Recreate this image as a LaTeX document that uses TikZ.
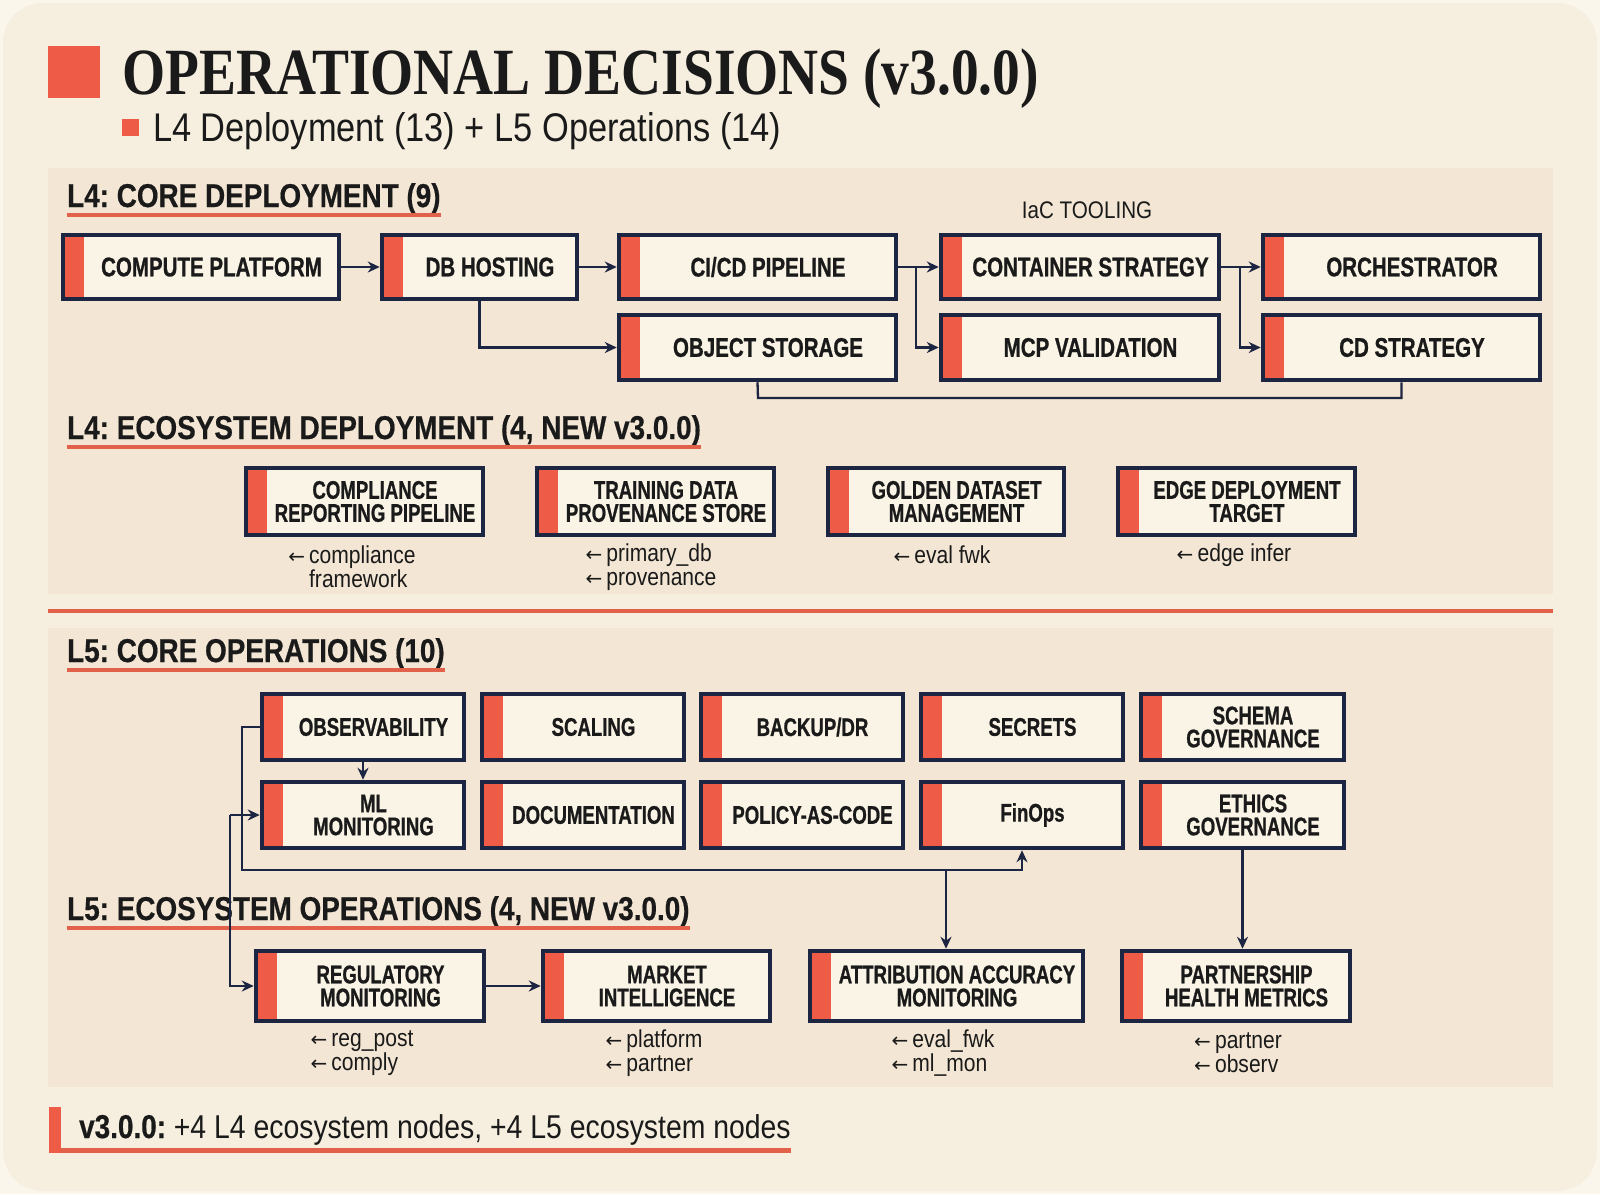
\documentclass[tikz,border=0pt]{standalone}
\usepackage{fontspec}
\setmainfont{Liberation Sans}
\newfontfamily\titlefont{Liberation Serif}[FakeStretch=0.84]
\newfontfamily\bxfont{Liberation Sans}[FakeStretch=0.76,FakeBold=0.8]
\newfontfamily\bxsfont{Liberation Sans}[FakeStretch=0.73,FakeBold=0.8]
\newfontfamily\hdfont{Liberation Sans}[FakeStretch=0.845,FakeBold=0.5]
\newfontfamily\rgfont{Liberation Sans}[FakeStretch=0.86]
\newfontfamily\arrfont{DejaVu Sans}
\newcommand\la{{\arrfont\fontsize{20}{20}\selectfont ←}}
\usetikzlibrary{arrows.meta,calc}
\definecolor{pagebg}{HTML}{FAF6EC}
\definecolor{cardbg}{HTML}{F6EFDF}
\definecolor{panelbg}{HTML}{F3E6D4}
\definecolor{accent}{HTML}{EE5B46}
\definecolor{uline}{HTML}{E2614B}
\definecolor{navy}{HTML}{1C2541}
\definecolor{boxfill}{HTML}{FAF4E6}
\definecolor{ink}{HTML}{1A1A1A}
\tikzset{
  obx/.style={draw=navy, line width=4.5pt, fill=boxfill, inner sep=0pt,
    path picture={\fill[accent] (path picture bounding box.north west) rectangle ([xshift=21pt]path picture bounding box.south west);}},
  obbig/.style={align=center, inner sep=0pt, text=ink, font=\bxfont\bfseries\fontsize{27}{27}\selectfont},
  obsm/.style={align=center, inner sep=0pt, text=ink, font=\bxsfont\bfseries\fontsize{25.5}{23}\selectfont},
  hd/.style={anchor=base west, inner sep=0pt, text=ink, font=\hdfont\bfseries\fontsize{33}{33}\selectfont},
  ul/.style={draw=uline, line width=4.5pt},
  conn/.style={draw=navy, line width=2.3pt, -{Stealth[length=12pt,width=11pt]}},
  plain/.style={draw=navy, line width=2.3pt},
  lbl/.style={align=left, inner sep=0pt, text=ink, font=\rgfont\fontsize{24.5}{24}\selectfont},
}
\newcommand\obox[7]{%
  \node[obx, minimum width={#4-#2}, minimum height={#5-#3}] (#1) at ({(#2+#4)/2},{(#3+#5)/2}) {};
  \node[#7] (#1t) at ([xshift=10.5pt]#1.center) {#6};
}
\begin{document}
\frenchspacing
\begin{tikzpicture}[x=1pt,y=-1pt]
\useasboundingbox (0,0) rectangle (1600,1194);
\fill[pagebg] (0,0) rectangle (1600,1194);
\fill[cardbg, rounded corners=40pt] (3,3) rectangle (1597,1191);
% panels
\fill[panelbg] (48,168) rectangle (1553,594);
\fill[panelbg] (48,628) rectangle (1553,1087);
\draw[uline, line width=4.5pt] (48,611) -- (1553,611);
% title
\fill[accent] (48,46) rectangle (100,98);
\node[anchor=base west, inner sep=0pt, text=ink] (title) at (122,94) {\titlefont\bfseries\fontsize{66}{66}\selectfont OPERATIONAL DECISIONS (v3.0.0)};
\fill[accent] (122,119) rectangle (139,136);
\node[anchor=base west, inner sep=0pt, text=ink] (subtitle) at (153,141) {\rgfont\fontsize{40}{40}\selectfont L4 Deployment (13) + L5 Operations (14)};
% headings
\node[hd] (h1) at (67,207) {L4: CORE DEPLOYMENT (9)};
\draw[ul] ([yshift=-8pt]h1.base west) -- ([yshift=-8pt]h1.base east);
\node[hd] (h2) at (67,439) {L4: ECOSYSTEM DEPLOYMENT (4, NEW v3.0.0)};
\draw[ul] ([yshift=-8pt]h2.base west) -- ([yshift=-8pt]h2.base east);
\node[hd] (h3) at (67,662) {L5: CORE OPERATIONS (10)};
\draw[ul] ([yshift=-8pt]h3.base west) -- ([yshift=-8pt]h3.base east);
\node[hd] (h4) at (67,920) {L5: ECOSYSTEM OPERATIONS (4, NEW v3.0.0)};
\draw[ul] ([yshift=-8pt]h4.base west) -- ([yshift=-8pt]h4.base east);
% L4 core
\node[text=ink, inner sep=0pt, font=\rgfont\fontsize{24}{24}\selectfont] (iac) at (1087,210) {IaC TOOLING};
\obox{cp}{63}{235}{339}{299}{COMPUTE PLATFORM}{obbig}
\obox{db}{382}{235}{577}{299}{DB HOSTING}{obbig}
\obox{ci}{619}{235}{896}{299}{CI/CD PIPELINE}{obbig}
\obox{cs}{941}{235}{1219}{299}{CONTAINER STRATEGY}{obbig}
\obox{orc}{1263}{235}{1540}{299}{ORCHESTRATOR}{obbig}
\obox{os}{619}{315}{896}{380}{OBJECT STORAGE}{obbig}
\obox{mcp}{941}{315}{1219}{380}{MCP VALIDATION}{obbig}
\obox{cd}{1263}{315}{1540}{380}{CD STRATEGY}{obbig}
\draw[conn] (cp.east) -- (db.west);
\draw[conn] (db.east) -- (ci.west);
\draw[conn] (db.south) |- (os.west);
\coordinate (j1) at (916,267);
\coordinate (j2) at (1240,267);
\draw[plain] (ci.east) -- (j1);
\draw[conn] (j1) -- (cs.west);
\draw[conn] (j1) |- (mcp.west);
\draw[plain] (cs.east) -- (j2);
\draw[conn] (j2) -- (orc.west);
\draw[conn] (j2) |- (cd.west);
\coordinate (j3) at (758,398);
\draw[plain] (os.south) -- (j3) -| (cd.south);
% L4 ecosystem
\obox{crp}{246}{468}{483}{535}{COMPLIANCE\\REPORTING PIPELINE}{obsm}
\obox{tdp}{537}{468}{774}{535}{TRAINING DATA\\PROVENANCE STORE}{obsm}
\obox{gdm}{828}{468}{1064}{535}{GOLDEN DATASET\\MANAGEMENT}{obsm}
\obox{edt}{1118}{468}{1355}{535}{EDGE DEPLOYMENT\\TARGET}{obsm}
\node[lbl] (l1) at (352,567) {\la\,compliance\\\phantom{\la\,}framework};
\node[lbl] (l2) at (651,567) {\la\,primary\_db\\\la\,provenance};
\node[lbl] (l3) at (942,555) {\la\,eval fwk};
\node[lbl] (l4) at (1234,555) {\la\,edge infer};
% L5 core
\obox{ob}{262}{694}{464}{760}{OBSERVABILITY}{obsm}
\obox{sc}{482}{694}{684}{760}{SCALING}{obsm}
\obox{bk}{701}{694}{903}{760}{BACKUP/DR}{obsm}
\obox{se}{921}{694}{1123}{760}{SECRETS}{obsm}
\obox{sg}{1141}{694}{1344}{760}{SCHEMA\\GOVERNANCE}{obsm}
\obox{ml}{262}{782}{464}{848}{ML\\MONITORING}{obsm}
\obox{doc}{482}{782}{684}{848}{DOCUMENTATION}{obsm}
\obox{pac}{701}{782}{903}{848}{POLICY-AS-CODE}{obsm}
\obox{fin}{921}{782}{1123}{848}{FinOps}{obsm}
\obox{eth}{1141}{782}{1344}{848}{ETHICS\\GOVERNANCE}{obsm}
% L5 ecosystem
\obox{reg}{256}{951}{484}{1021}{REGULATORY\\MONITORING}{obsm}
\obox{mkt}{543}{951}{770}{1021}{MARKET\\INTELLIGENCE}{obsm}
\obox{att}{810}{951}{1083}{1021}{ATTRIBUTION ACCURACY\\MONITORING}{obsm}
\obox{par}{1122}{951}{1350}{1021}{PARTNERSHIP\\HEALTH METRICS}{obsm}
\node[lbl] (l5) at (362,1053) {\la\,reg\_post\\\la\,comply};
\node[lbl] (l6) at (654,1053) {\la\,platform\\\la\,partner};
\node[lbl] (l7) at (943,1053) {\la\,eval\_fwk\\\la\,ml\_mon};
\node[lbl] (l8) at (1238,1053) {\la\,partner\\\la\,observ};
% L5 connectors
\draw[conn] (ob.south) -- (ml.north);
\coordinate (k1) at (242,870);
\coordinate (k2) at (946,870);
\draw[conn] (ob.west) -| (k1) -| (fin.south);
\draw[conn] (k2) -- (k2 |- att.north);
\coordinate (k3) at (230,815);
\draw[conn] (k3) -- (k3 -| ml.west);
\draw[conn] (k3) |- (reg.west);
\draw[conn] (reg.east) -- (mkt.west);
\draw[conn] (eth.south) -- (eth.south |- par.north);
% footer
\fill[accent] (49,1107) rectangle (61,1153);
\node[anchor=base west, inner sep=0pt, text=ink] (foot) at (79,1138) {\rgfont\fontsize{33}{33}\selectfont{\hdfont\bfseries v3.0.0:} +4 L4 ecosystem nodes, +4 L5 ecosystem nodes};
\draw[ul, line width=5pt] (61,1150) -- (foot.base east |- 0,1150);
\end{tikzpicture}
\end{document}
